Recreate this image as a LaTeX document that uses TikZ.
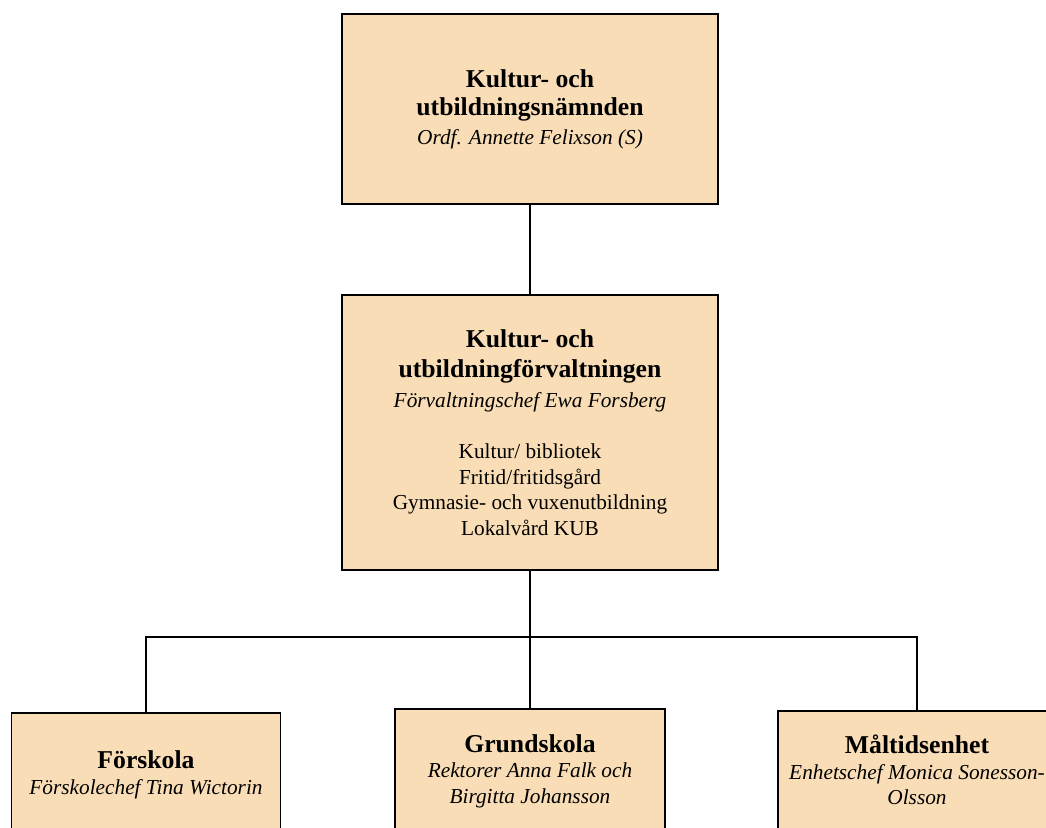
\documentclass[tikz,border=0pt]{standalone}
\usepackage{fontspec}
\setmainfont{Liberation Serif}
\definecolor{boxfill}{RGB}{249,221,182}
\newcommand{\rubrik}[1]{{\fontsize{25.7}{29}\selectfont\bfseries #1}}
\tikzset{
  orgbox/.style={draw=black, line width=1.8pt, fill=boxfill, align=center,
    inner sep=0pt, font=\fontsize{21.3}{25.5}\selectfont},
  conn/.style={draw=black, line width=1.6pt},
}
\begin{document}
\begin{tikzpicture}[x=1pt,y=-1pt]
\useasboundingbox (0,0) rectangle (1046,827);
\clip (0,0) rectangle (1046,827);
\node[orgbox, minimum width=376, minimum height=190] (knd) at (530,109)
  {\rubrik{Kultur- och}\\[2.5pt]\rubrik{utbildningsnämnden}\\[3.5pt]\textit{Ordf. Annette Felixson (S)}};
\node[orgbox, minimum width=376, minimum height=275] (kuf) at (530,432.5)
  {\rubrik{Kultur- och}\\[4.5pt]\rubrik{utbildningförvaltningen}\\[4.5pt]\textit{Förvaltningschef Ewa Forsberg}\\[25.5pt]
   Kultur/ bibliotek\\ Fritid/fritidsgård\\ Gymnasie- och vuxenutbildning\\ Lokalvård KUB};
\node[orgbox, minimum width=269, minimum height=124] (fsk) at (146,775)
  {\rubrik{Förskola}\\ \textit{Förskolechef Tina Wictorin}};
\node[orgbox, minimum width=270, minimum height=124] (grs) at (530,771)
  {\rubrik{Grundskola}\\ \textit{Rektorer Anna Falk och}\\ \textit{Birgitta Johansson}};
\node[orgbox, minimum width=278, minimum height=118] (mlt) at (917,770)
  {\rubrik{Måltidsenhet}\\ \textit{Enhetschef Monica Sonesson-}\\ \textit{Olsson}};
\coordinate (bus) at (530,637);
\draw[conn] (knd) -- (kuf);
\draw[conn] (kuf) -- (bus) -| (fsk);
\draw[conn] (bus) -- (grs);
\draw[conn] (bus) -| (mlt);
\end{tikzpicture}
\end{document}
